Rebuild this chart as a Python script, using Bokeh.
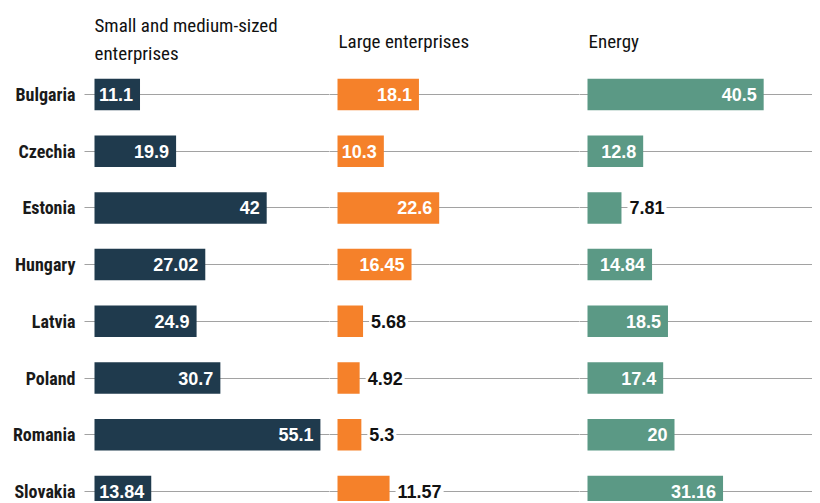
from bokeh.plotting import figure
from bokeh.layouts import row
from bokeh.models import Range1d, FixedTicker, ColumnDataSource
from bokeh.core.properties import value
from bokeh.embed import file_html
from bokeh.resources import INLINE

countries = ["Bulgaria", "Czechia", "Estonia", "Hungary", "Latvia", "Poland", "Romania", "Slovakia"]
sme = [11.1, 19.9, 42, 27.02, 24.9, 30.7, 55.1, 13.84]
large = [18.1, 10.3, 22.6, 16.45, 5.68, 4.92, 5.3, 11.57]
energy = [40.5, 12.8, 7.81, 14.84, 18.5, 17.4, 20, 31.16]
series = [sme, large, energy]
titles = ["Small and medium-sized\nenterprises", "Large enterprises", "Energy"]
colors = ["#1f3a4d", "#f5812a", "#5b9985"]

TITLE_FONT = "Roboto Condensed"
COUNTRY_FONT = "Roboto Condensed"
VALUE_FONT = "Liberation Sans"
FIG_H = 501
TOP = 66
ROW_STEP = 56.7
FIRST_ROW = 28.0  # px below frame top to first row centre
frame_h = FIG_H - TOP
y_top = -FIRST_ROW / ROW_STEP
y_bottom = y_top + frame_h / ROW_STEP

# (fig width, left border, px per unit, pre pad, title offset, title standoff)
panels = [
    (329, 84, 4.1, 10, 10, 3),
    (250, 0, 4.5, 8, 9, 27),
    (233, 0, 4.35, 8, 9, 27),
]

LABEL_SIZE = 18
def text_width(s):
    w = 0.0
    for ch in s:
        w += 0.278 if ch == "." else 0.556
    return w * LABEL_SIZE

figs = []
for i, (vals, title, color, spec) in enumerate(zip(series, titles, colors, panels)):
    fw, lb, k, pre, toff, tstand = spec
    frame_w = fw - lb
    x0 = -pre / k
    p = figure(width=fw, height=FIG_H, output_backend="svg", toolbar_location=None,
               x_range=Range1d(x0, x0 + frame_w / k),
               y_range=Range1d(y_bottom, y_top),
               min_border_left=lb, min_border_right=0, min_border_top=TOP,
               min_border_bottom=0, x_axis_location=None,
               y_axis_location="left" if i == 0 else None)
    p.outline_line_color = None
    p.xgrid.visible = False
    p.ygrid.grid_line_color = "#444444"
    p.ygrid.grid_line_dash = "1 1"
    p.ygrid.grid_line_width = 1
    p.ygrid.ticker = FixedTicker(ticks=list(range(len(countries))))
    if i == 0:
        ax = p.yaxis[0]
        ax.ticker = FixedTicker(ticks=list(range(len(countries))))
        ax.major_label_overrides = {j: c for j, c in enumerate(countries)}
        ax.axis_line_color = None
        ax.major_tick_line_color = None
        ax.minor_tick_line_color = None
        ax.major_tick_out = 0
        ax.major_tick_in = 0
        ax.major_label_standoff = 9
        ax.major_label_text_font = COUNTRY_FONT
        ax.major_label_text_font_size = "18px"
        ax.major_label_text_color = "#1a1a1a"
        ax.major_label_text_font_style = "bold"
    p.title.text = title
    p.title.align = "left"
    p.title.offset = toff
    p.title.standoff = tstand
    p.title.text_font = TITLE_FONT
    p.title.text_font_size = "19px"
    p.title.text_font_style = "normal"
    p.title.text_color = "#111111"
    p.title.text_line_height = 1.2

    idx = list(range(len(countries)))
    labels = [f"{v:g}" for v in vals]
    src = ColumnDataSource(dict(y=idx, v=vals, t=labels))
    p.hbar(y="y", left=0, right="v", height=0.555, source=src, fill_color=color, line_color=None)

    inside = [text_width(t) + 10 <= v * k for t, v in zip(labels, vals)]
    src_in = ColumnDataSource(dict(y=[y for y, f in zip(idx, inside) if f],
                                   v=[v for v, f in zip(vals, inside) if f],
                                   t=[t for t, f in zip(labels, inside) if f]))
    src_out = ColumnDataSource(dict(y=[y for y, f in zip(idx, inside) if not f],
                                    v=[v for v, f in zip(vals, inside) if not f],
                                    t=[t for t, f in zip(labels, inside) if not f]))
    p.text(x="v", y="y", text="t", source=src_in, x_offset=-7, text_align="right",
           text_baseline="middle", text_color="white", text_font=value(VALUE_FONT),
           text_font_style="bold", text_font_size=f"{LABEL_SIZE}px")
    p.text(x="v", y="y", text="t", source=src_out, x_offset=6, text_align="left",
           text_baseline="middle", text_color="#111111", text_font=value(VALUE_FONT),
           text_font_style="bold", text_font_size=f"{LABEL_SIZE}px",
           background_fill_color="white", padding=2)
    figs.append(p)

layout = row(*figs, spacing=0)
open("out.html", "w").write(file_html(layout, INLINE))
